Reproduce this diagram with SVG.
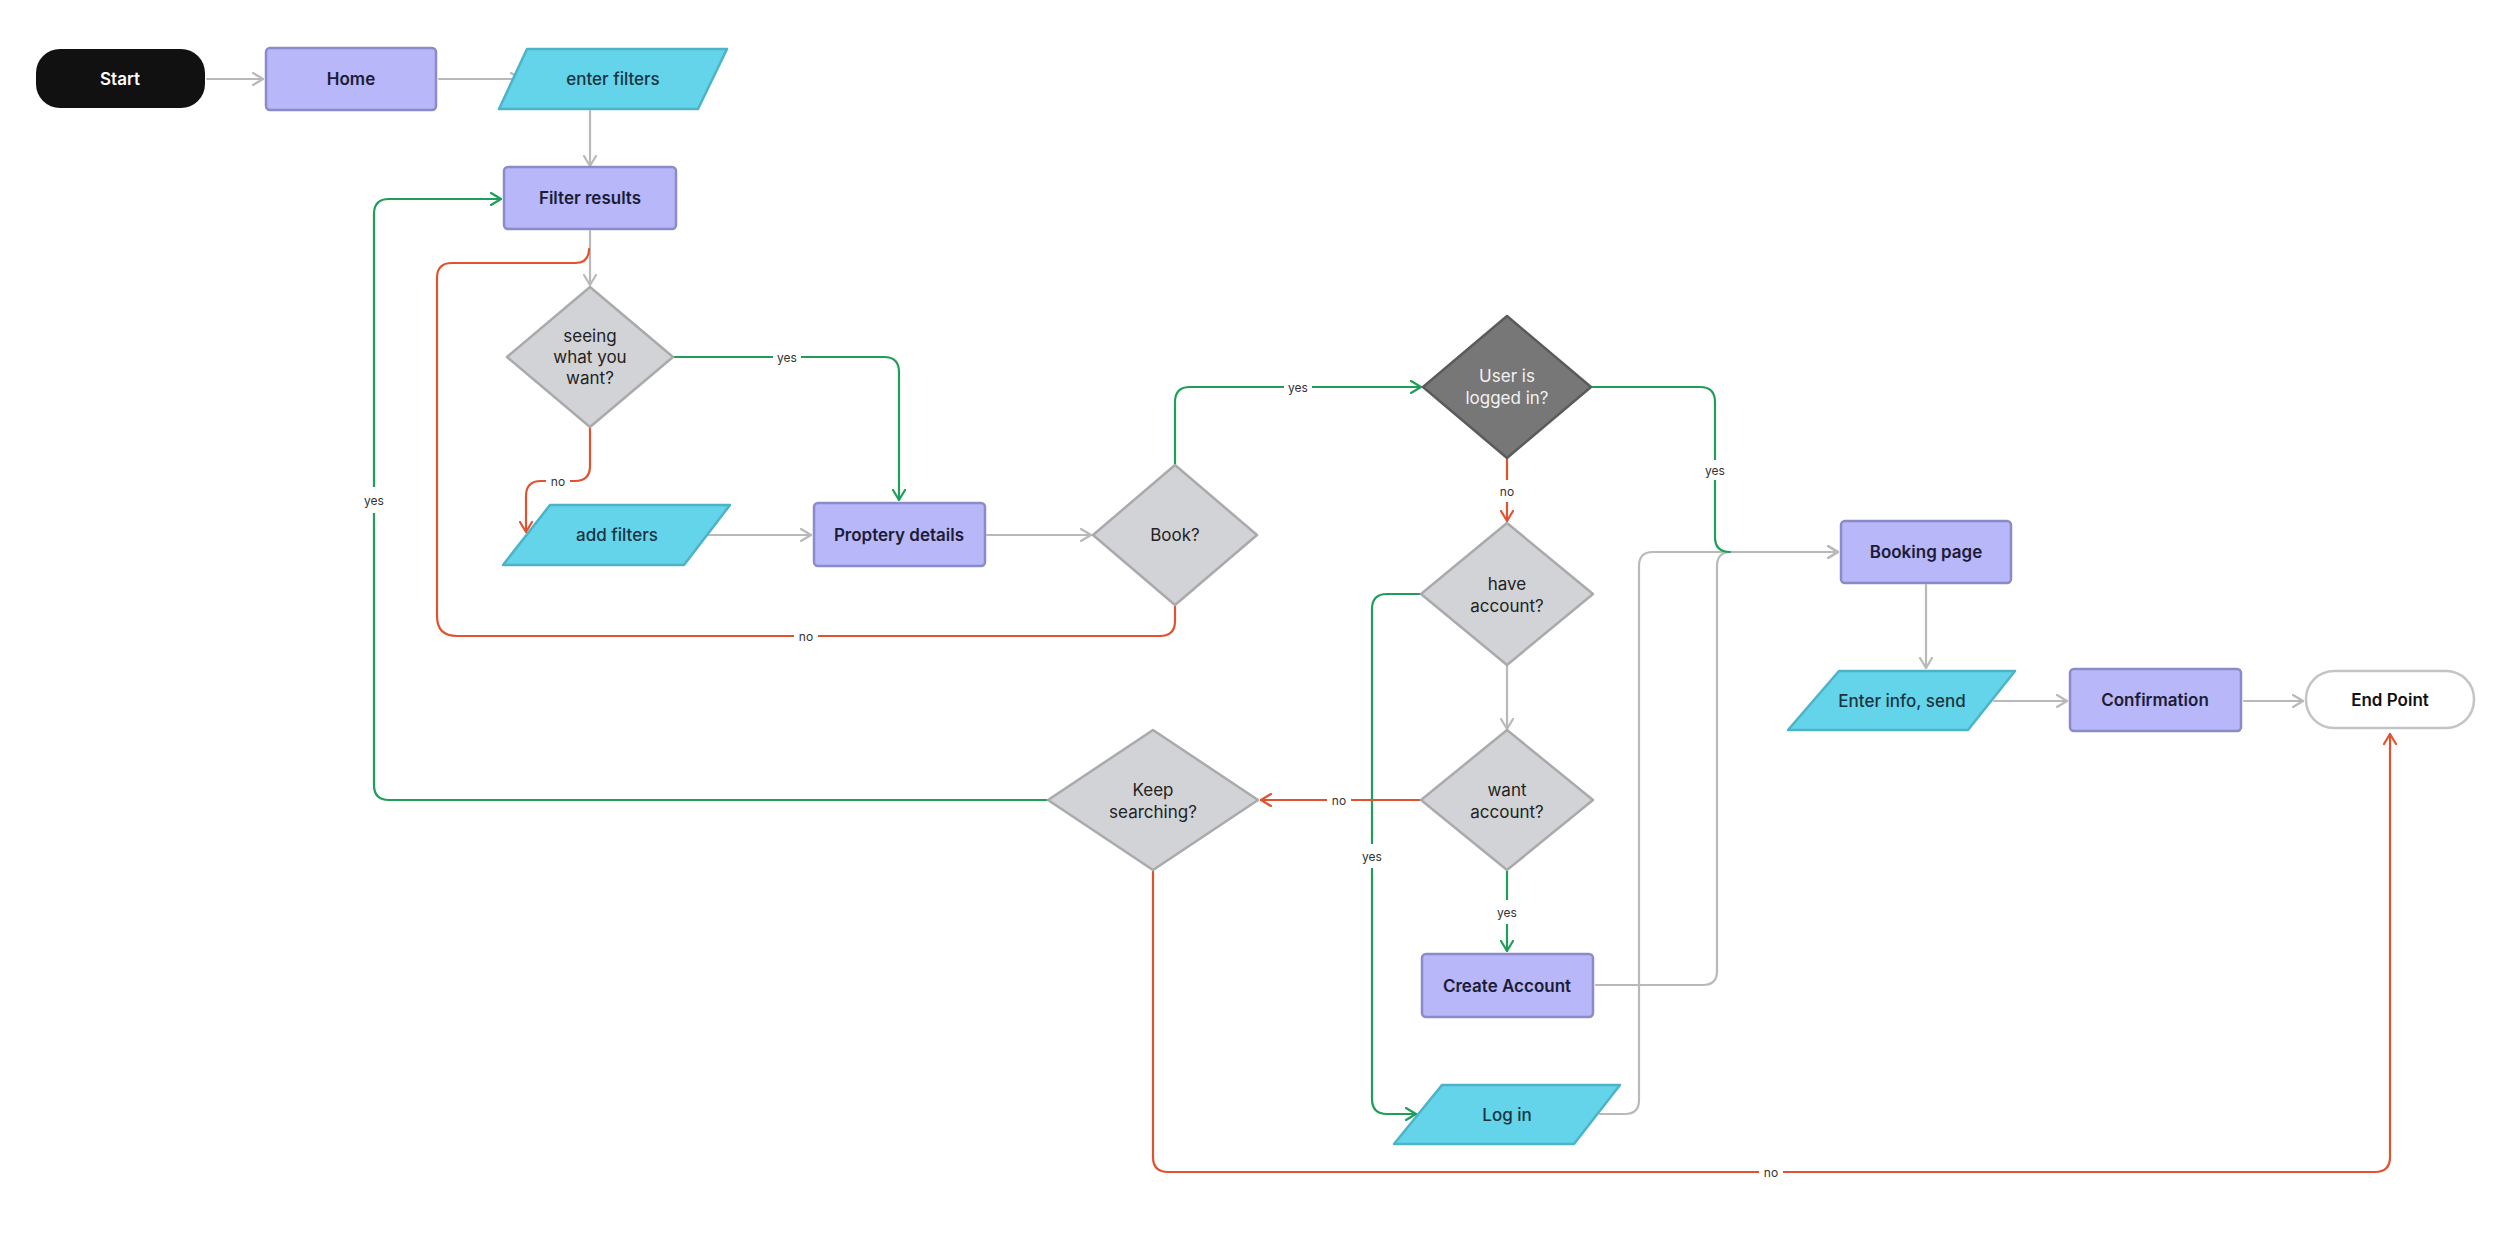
<svg xmlns="http://www.w3.org/2000/svg" width="2500" height="1240" viewBox="0 0 2500 1240">
<defs>
<style>
.conn path{fill:none;stroke-width:2.2;stroke-linejoin:round;stroke-linecap:round}
.g{stroke:#b9b9b9}
.gr{stroke:#1f9e5a}
.rd{stroke:#e0532e}
.box{fill:#b7b7f9;stroke:#8b8bc9;stroke-width:2.5}
.io{fill:#63d4e9;stroke:#4db3c6;stroke-width:2.5;stroke-linejoin:round}
.dec{fill:#d2d3d6;stroke:#aaaaad;stroke-width:2.5;stroke-linejoin:round}
.dark{fill:#777777;stroke:#5b5b5b;stroke-width:2.5;stroke-linejoin:round}
text{font-family:Inter,"Liberation Sans",sans-serif;text-anchor:middle;dominant-baseline:central}
.tb{font-size:17px;font-weight:600;fill:#1c1c36}
.ti{font-size:17px;font-weight:500;fill:#1a3440}
.td{font-size:17px;font-weight:400;fill:#222}
.lbl{font-size:12px;fill:#333}
.lb{fill:#fff}
</style>
<marker id="ag" viewBox="0 0 12 14" refX="11" refY="7" markerWidth="12" markerHeight="14" markerUnits="userSpaceOnUse" orient="auto"><path d="M1,1 L11,7 L1,13" fill="none" stroke="#b9b9b9" stroke-width="2.2" stroke-linecap="round" stroke-linejoin="round"/></marker>
<marker id="agr" viewBox="0 0 12 14" refX="11" refY="7" markerWidth="12" markerHeight="14" markerUnits="userSpaceOnUse" orient="auto"><path d="M1,1 L11,7 L1,13" fill="none" stroke="#1f9e5a" stroke-width="2.2" stroke-linecap="round" stroke-linejoin="round"/></marker>
<marker id="ard" viewBox="0 0 12 14" refX="11" refY="7" markerWidth="12" markerHeight="14" markerUnits="userSpaceOnUse" orient="auto"><path d="M1,1 L11,7 L1,13" fill="none" stroke="#e0532e" stroke-width="2.2" stroke-linecap="round" stroke-linejoin="round"/></marker>
</defs>
<rect width="2500" height="1240" fill="#ffffff"/>

<g id="connectors" class="conn">
<path class="g" d="M207,79 H263" marker-end="url(#ag)"/>
<path class="g" d="M439,79 H521" marker-end="url(#ag)"/>
<path class="g" d="M590,111 V166" marker-end="url(#ag)"/>
<path class="g" d="M590,231 V285" marker-end="url(#ag)"/>
<path class="g" d="M708,535 H811" marker-end="url(#ag)"/>
<path class="g" d="M987,535 H1091" marker-end="url(#ag)"/>
<path class="g" d="M1507,666 V729" marker-end="url(#ag)"/>
<path class="g" d="M1596,985 H1703 Q1717,985 1717,971 V566 Q1717,552 1731,552 H1838" marker-end="url(#ag)"/>
<path class="g" d="M1600,1114 H1625 Q1639,1114 1639,1100 V566 Q1639,552 1653,552 H1838" marker-end="url(#ag)"/>
<path class="g" d="M1926,585 V668" marker-end="url(#ag)"/>
<path class="g" d="M1994,701 H2067" marker-end="url(#ag)"/>
<path class="g" d="M2244,701 H2303" marker-end="url(#ag)"/>

<path class="gr" d="M673,357 H884 Q899,357 899,372 V500" marker-end="url(#agr)"/>
<path class="gr" d="M1175,464 V402 Q1175,387 1190,387 H1421" marker-end="url(#agr)"/>
<path class="gr" d="M1591,387 H1700 Q1715,387 1715,402 V537 Q1715,552 1730,552"/>
<path class="gr" d="M1420,594 H1387 Q1372,594 1372,609 V1099 Q1372,1114 1387,1114 H1416" marker-end="url(#agr)"/>
<path class="gr" d="M1507,871 V951" marker-end="url(#agr)"/>
<path class="gr" d="M1047,800 H389 Q374,800 374,785 V214 Q374,199 389,199 H501" marker-end="url(#agr)"/>

<path class="rd" d="M590,428 V466 Q590,481 575,481 H541 Q526,481 526,496 V532" marker-end="url(#ard)"/>
<path class="rd" d="M1175,606 V621 Q1175,636 1160,636 H457 Q437,636 437,616 V278 Q437,263 452,263 H575 Q589,263 589,249"/>
<path class="rd" d="M1507,458 V521" marker-end="url(#ard)"/>
<path class="rd" d="M1420,800 H1261" marker-end="url(#ard)"/>
<path class="rd" d="M1153,871 V1157 Q1153,1172 1168,1172 H2375 Q2390,1172 2390,1157 V734" marker-end="url(#ard)"/>

<g id="labels">
<rect class="lb" x="773" y="349" width="28" height="16"/><text class="lbl" x="787" y="357">yes</text>
<rect class="lb" x="1284" y="379" width="28" height="16"/><text class="lbl" x="1298" y="387">yes</text>
<rect class="lb" x="1701" y="460" width="28" height="20"/><text class="lbl" x="1715" y="470">yes</text>
<rect class="lb" x="1358" y="844" width="28" height="24"/><text class="lbl" x="1372" y="856">yes</text>
<rect class="lb" x="1493" y="900" width="28" height="24"/><text class="lbl" x="1507" y="912">yes</text>
<rect class="lb" x="360" y="487" width="28" height="26"/><text class="lbl" x="374" y="500">yes</text>
<rect class="lb" x="546" y="473" width="24" height="16"/><text class="lbl" x="558" y="481">no</text>
<rect class="lb" x="794" y="628" width="24" height="16"/><text class="lbl" x="806" y="636">no</text>
<rect class="lb" x="1497" y="480" width="20" height="22"/><text class="lbl" x="1507" y="491">no</text>
<rect class="lb" x="1327" y="792" width="24" height="16"/><text class="lbl" x="1339" y="800">no</text>
<rect class="lb" x="1759" y="1164" width="24" height="16"/><text class="lbl" x="1771" y="1172">no</text>
</g>
</g>

<g id="start"><rect x="36" y="49" width="169" height="59" rx="24" fill="#111111"/><text class="tb" x="120" y="79" fill="#ffffff" style="fill:#ffffff">Start</text></g>
<g id="home"><rect class="box" x="266" y="48" width="170" height="62" rx="4"/><text class="tb" x="351" y="79">Home</text></g>
<g id="enter-filters"><polygon class="io" points="527,49 727,49 698,109 499,109"/><text class="ti" x="613" y="79">enter filters</text></g>
<g id="filter-results"><rect class="box" x="504" y="167" width="172" height="62" rx="4"/><text class="tb" x="590" y="198">Filter results</text></g>
<g id="seeing"><polygon class="dec" points="590,287 673,357 590,427 507,357"/><text class="td" x="590" y="336">seeing</text><text class="td" x="590" y="357">what you</text><text class="td" x="590" y="378">want?</text></g>
<g id="add-filters"><polygon class="io" points="550,505 730,505 684,565 503,565"/><text class="ti" x="617" y="535">add filters</text></g>
<g id="property-details"><rect class="box" x="814" y="503" width="171" height="63" rx="4"/><text class="tb" x="899" y="535">Proptery details</text></g>
<g id="book"><polygon class="dec" points="1175,465 1257,535 1175,605 1093,535"/><text class="td" x="1175" y="535">Book?</text></g>
<g id="logged-in"><polygon class="dark" points="1507,316 1591,387 1507,458 1423,387"/><text class="td" x="1507" y="376" style="fill:#f2f2f2">User is</text><text class="td" x="1507" y="398" style="fill:#f2f2f2">logged in?</text></g>
<g id="have-account"><polygon class="dec" points="1507,523 1593,594 1507,665 1421,594"/><text class="td" x="1507" y="584">have</text><text class="td" x="1507" y="606">account?</text></g>
<g id="want-account"><polygon class="dec" points="1507,730 1593,800 1507,870 1421,800"/><text class="td" x="1507" y="790">want</text><text class="td" x="1507" y="812">account?</text></g>
<g id="keep-searching"><polygon class="dec" points="1153,730 1258,800 1153,870 1048,800"/><text class="td" x="1153" y="790">Keep</text><text class="td" x="1153" y="812">searching?</text></g>
<g id="create-account"><rect class="box" x="1422" y="954" width="171" height="63" rx="4"/><text class="tb" x="1507" y="986">Create Account</text></g>
<g id="log-in"><polygon class="io" points="1442,1085 1620,1085 1574,1144 1394,1144"/><text class="ti" x="1507" y="1115">Log in</text></g>
<g id="booking-page"><rect class="box" x="1841" y="521" width="170" height="62" rx="4"/><text class="tb" x="1926" y="552">Booking page</text></g>
<g id="enter-info"><polygon class="io" points="1839,671 2015,671 1968,730 1788,730"/><text class="ti" x="1902" y="701">Enter info, send</text></g>
<g id="confirmation"><rect class="box" x="2070" y="669" width="171" height="62" rx="4"/><text class="tb" x="2155" y="700">Confirmation</text></g>
<g id="end-point"><rect x="2306" y="671" width="168" height="57" rx="28" fill="#ffffff" stroke="#c4c4c4" stroke-width="2.5"/><text class="tb" x="2390" y="700" style="fill:#111">End Point</text></g>
</svg>
